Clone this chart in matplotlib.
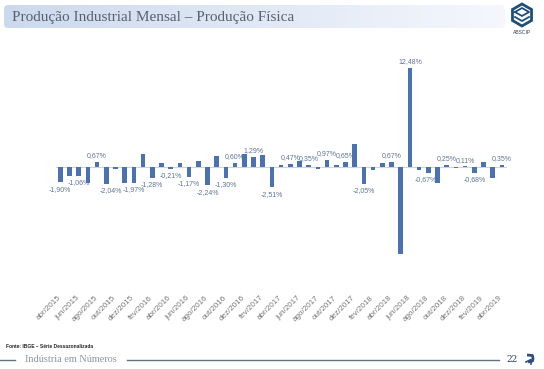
import numpy as np
import matplotlib
matplotlib.use("Agg")
import matplotlib.pyplot as plt
from matplotlib.patches import FancyBboxPatch, RegularPolygon
from matplotlib.transforms import ScaledTranslation

months = ["abr/2015","mai/2015","jun/2015","jul/2015","ago/2015","set/2015","out/2015","nov/2015","dez/2015","jan/2016","fev/2016","mar/2016",
          "abr/2016","mai/2016","jun/2016","jul/2016","ago/2016","set/2016","out/2016","nov/2016","dez/2016","jan/2017","fev/2017","mar/2017",
          "abr/2017","mai/2017","jun/2017","jul/2017","ago/2017","set/2017","out/2017","nov/2017","dez/2017","jan/2018","fev/2018","mar/2018",
          "abr/2018","mai/2018","jun/2018","jul/2018","ago/2018","set/2018","out/2018","nov/2018","dez/2018","jan/2019","fev/2019","mar/2019","abr/2019"]
values = [-1.90,-1.05,-1.06,-1.93,0.67,-2.04,-0.20,-1.93,-1.97,1.67,-1.28,0.58,
          -0.21,0.58,-1.17,0.75,-2.24,1.40,-1.30,0.60,1.63,1.29,1.55,-2.51,
          0.25,0.47,0.80,0.35,-0.18,0.97,0.25,0.65,2.93,-2.05,-0.37,0.50,
          0.67,-10.90,12.48,-0.30,-0.67,-1.93,0.25,-0.13,0.11,-0.68,0.70,-1.40,0.35]
labels = {0:"-1,90%",2:"-1,06%",4:"0,67%",5:"-2,04%",8:"-1,97%",10:"-1,28%",12:"-0,21%",14:"-1,17%",16:"-2,24%",
          18:"-1,30%",19:"0,60%",21:"1,29%",23:"-2,51%",25:"0,47%",27:"0,35%",29:"0,97%",31:"0,65%",33:"-2,05%",
          36:"0,67%",38:"12,48%",40:"-0,67%",42:"0,25%",44:"0,11%",45:"-0,68%",48:"0,35%"}
label_dx_px = {5: 5, 8: 0, 40: -3, 42: 0}

W, H = 544, 369
fig = plt.figure(figsize=(W/100, H/100), dpi=100, facecolor="white")
plt.rcParams["font.family"] = ["Liberation Sans", "DejaVu Sans"]

def box(l, t, r, b):
    return [l/W, 1-b/H, (r-l)/W, (b-t)/H]

bg = fig.add_axes([0, 0, 1, 1]); bg.set_xlim(0, W); bg.set_ylim(H, 0); bg.axis("off")
patch = FancyBboxPatch((8, 9), 493, 15, boxstyle="round,pad=4,rounding_size=4", fc="none", ec="none")
bg.add_patch(patch)
grad = np.linspace(0, 1, 256)[None, :, None]
c0 = np.array([0.80, 0.85, 0.93])[None, None, :]; c1 = np.array([0.96, 0.97, 0.99])[None, None, :]
im = bg.imshow(c0*(1-grad)+c1*grad, extent=(4, 505, 28, 5), aspect="auto", zorder=1)
im.set_clip_path(patch)
bg.set_xlim(0, W); bg.set_ylim(H, 0)
bg.text(12.5, 17, "Produção Industrial Mensal – Produção Física", fontsize=11, color="#5a6270", va="center", ha="left", family="Liberation Serif", zorder=2)
bg.add_patch(RegularPolygon((522, 15), 6, radius=11, fc="none", ec="#1f4e79", lw=2))
bg.plot([515, 522, 529, 522, 515], [12, 8, 12, 16, 12], color="#1f4e79", lw=1.3)
bg.plot([515, 522, 529], [17, 21, 17], color="#1f4e79", lw=1.3)
bg.text(522, 32, "ABSCIP", fontsize=3.6, color="#33415a", ha="center", va="center")
bg.text(6, 347, "Fonte: IBGE – Série Dessazonalizada", fontsize=3.5, color="#222222", fontweight="bold", va="center")
bg.text(25, 359.5, "Indústria em Números", fontsize=7.4, color="#8a95a5", va="center", family="Liberation Serif")
bg.plot([0, 15], [360, 360], color="#5c7378", lw=1)
bg.plot([127, 499], [360, 360], color="#5c7378", lw=1)
bg.text(511.7, 359, "22", fontsize=6.5, color="#2f4058", ha="center", va="center", family="DejaVu Serif")
bg.plot([527, 532.5, 533, 532.5, 528], [355, 355.5, 358.5, 361, 362], color="#2e4f86", lw=2, solid_capstyle="butt")
bg.plot([526, 531, 531], [362, 359.5, 364], color="#2e4f86", lw=1.2)

ax = fig.add_axes(box(55.7, 60, 506.6, 290))
ax.patch.set_alpha(0)
x = np.arange(len(values))
ax.bar(x, values, width=0.5, color="#4a72b2", zorder=2)
ax.axhline(0, color="#c9d3e2", lw=0.8, zorder=1)
ax.set_xlim(-0.5, 48.5)
ax.set_ylim(-15.41, 13.48)
for s in ax.spines.values():
    s.set_visible(False)
ax.set_yticks([])
ax.set_xticks(x[::2])
ax.set_xticklabels(months[::2], rotation=45, ha="right", rotation_mode="anchor", fontsize=5.8, color="#777777")
ax.tick_params(axis="x", length=0, pad=3)
shift = ScaledTranslation(-3/100, 0, fig.dpi_scale_trans)
for t in ax.get_xticklabels():
    t.set_transform(t.get_transform() + shift)
for i, t in labels.items():
    v = values[i]
    dx = label_dx_px.get(i, 0) * 0.72
    ax.annotate(t, (i, v), xytext=(dx, 4.6 if v > 0 else -5), textcoords="offset points", ha="center", va="center",
                fontsize=5.0, color="#5f7596")
fig.savefig("out.png", dpi=100)
